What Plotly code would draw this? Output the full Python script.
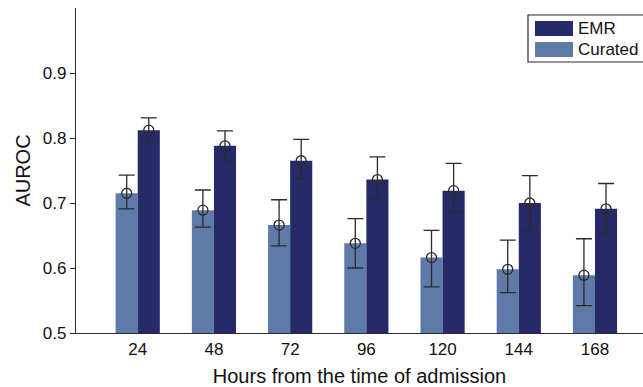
import plotly.graph_objects as go

# AUROC by prediction window, curated vs EMR features
hours = ["24", "48", "72", "96", "120", "144", "168"]
curated = [0.715, 0.689, 0.666, 0.638, 0.616, 0.598, 0.589]
curated_hi = [0.743, 0.720, 0.705, 0.676, 0.658, 0.643, 0.645]
curated_lo = [0.691, 0.663, 0.634, 0.600, 0.571, 0.562, 0.542]
emr = [0.812, 0.788, 0.765, 0.736, 0.719, 0.700, 0.691]
emr_hi = [0.831, 0.811, 0.798, 0.771, 0.761, 0.742, 0.730]
emr_lo = [0.794, 0.766, 0.738, 0.707, 0.686, 0.658, 0.652]

C_EMR = "#262a68"
C_CUR = "#5f7aa8"
INK = "#2b2b2b"
FONT = "Liberation Sans, Arial, sans-serif"

W, H = 643, 387
ML, MR, MT, MB = 76, 0, 8, 54
BARGAP = 0.42

xs = list(range(len(hours)))
bar_w = (1 - BARGAP) / 2
off = bar_w / 2

fig = go.Figure()

def add_series(vals, hi, lo, color, name, shift):
    fig.add_trace(go.Bar(
        x=xs, y=[v - 0.5 for v in vals], base=0.5, name=name,
        marker=dict(color=color, line=dict(width=0)),
        showlegend=False, hoverinfo="skip",
    ))
    fig.add_trace(go.Scatter(
        x=[x + shift for x in xs], y=vals, mode="markers",
        marker=dict(symbol="circle-open", size=10, color=INK, line=dict(width=1.3)),
        error_y=dict(type="data", symmetric=False,
                     array=[h - v for h, v in zip(hi, vals)],
                     arrayminus=[v - l for v, l in zip(vals, lo)],
                     color=INK, thickness=1.3, width=8),
        showlegend=False, hoverinfo="skip",
    ))

add_series(curated, curated_hi, curated_lo, C_CUR, "Curated", -off)
add_series(emr, emr_hi, emr_lo, C_EMR, "EMR", off)

pw = W - ML - MR
ph = H - MT - MB
def px(x):
    return (x - ML) / pw
def py(y):
    return (H - MB - y) / ph

shapes = [
    # legend frame
    dict(type="rect", xref="paper", yref="paper",
         x0=px(528), x1=px(660), y0=py(62), y1=py(15),
         line=dict(color=INK, width=1.2), fillcolor="white"),
    dict(type="rect", xref="paper", yref="paper",
         x0=px(535), x1=px(573), y0=py(36), y1=py(21),
         line=dict(width=0), fillcolor=C_EMR),
    dict(type="rect", xref="paper", yref="paper",
         x0=px(535), x1=px(573), y0=py(57), y1=py(42),
         line=dict(width=0), fillcolor=C_CUR),
]
annotations = [
    dict(text="EMR", xref="paper", yref="paper", x=px(576), y=py(28.5),
         xanchor="left", yanchor="middle", showarrow=False,
         font=dict(size=17, color="#111", family=FONT)),
    dict(text="Curated", xref="paper", yref="paper", x=px(576), y=py(49.5),
         xanchor="left", yanchor="middle", showarrow=False,
         font=dict(size=17, color="#111", family=FONT)),
]

fig.update_layout(
    width=W, height=H,
    margin=dict(l=ML, r=MR, t=MT, b=MB, pad=0),
    paper_bgcolor="white", plot_bgcolor="white",
    barmode="group", bargap=BARGAP, bargroupgap=0,
    font=dict(family=FONT, color="#111", size=17),
    shapes=shapes, annotations=annotations,
    xaxis=dict(
        range=[-0.81, 6.63], tickvals=xs, ticktext=hours, ticks="",
        showline=True, linecolor=INK, linewidth=1.3, showgrid=False,
        zeroline=False, tickfont=dict(size=17),
        title=dict(text="Hours from the time of admission", font=dict(size=20), standoff=11),
    ),
    yaxis=dict(
        range=[0.5, 1.0], tickvals=[0.5, 0.6, 0.7, 0.8, 0.9],
        ticktext=["0.5", "0.6", "0.7", "0.8", "0.9"],
        ticks="outside", ticklen=5, tickcolor=INK, tickwidth=1.2,
        showline=True, linecolor=INK, linewidth=1.3, showgrid=False,
        zeroline=False, tickfont=dict(size=17),
        title=dict(text="AUROC", font=dict(size=20), standoff=6),
    ),
)

fig.write_html("out.html")
